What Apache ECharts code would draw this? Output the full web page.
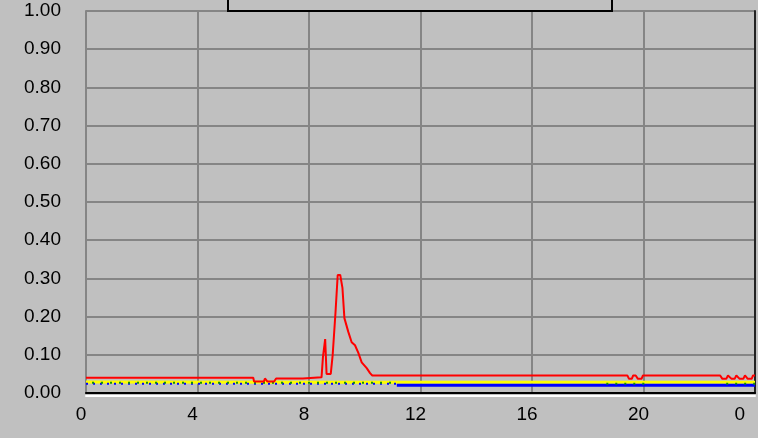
<!DOCTYPE html>
<html>
<head>
<meta charset="utf-8">
<script src="https://cdn.jsdelivr.net/npm/echarts@6/dist/echarts.min.js"></script>
<style>
html,body{margin:0;padding:0;background:#c0c0c0;}
#chart{width:758px;height:438px;}
</style>
</head>
<body>
<div id="chart"></div>
<script>
// x ticks in hours (24 wraps to 0)
const xTicks = [0, 4, 8, 12, 16, 20, 24];
const xTickLabels = ['0', '4', '8', '12', '16', '20', '0'];
const yTickLabels = ['0.00','0.10','0.20','0.30','0.40','0.50','0.60','0.70','0.80','0.90','1.00'];

// red series
const redHours = [0, 6.0, 6.03, 6.38, 6.42, 6.47, 6.51, 6.75, 6.82, 7.78, 7.82, 8.45, 8.5, 8.58, 8.63, 8.78, 8.85, 8.95, 9.03, 9.12, 9.2, 9.27, 9.41, 9.53, 9.65, 9.77, 9.89, 10.07, 10.19, 10.27,
  19.42, 19.48, 19.58, 19.63, 19.72, 19.8, 19.93, 19.98,
  22.75, 22.83, 22.97, 23.03, 23.1, 23.16, 23.27, 23.33, 23.39, 23.45, 23.58, 23.64, 23.68, 23.74, 23.88, 23.93, 24];
const redValues = [0.040, 0.040, 0.030, 0.030, 0.038, 0.038, 0.030, 0.030, 0.038, 0.038, 0.041, 0.041, 0.094, 0.141, 0.050, 0.050, 0.100, 0.210, 0.309, 0.309, 0.275, 0.196, 0.160, 0.133, 0.125, 0.105, 0.080, 0.065, 0.052, 0.046,
  0.046, 0.037, 0.037, 0.046, 0.046, 0.037, 0.037, 0.046,
  0.046, 0.037, 0.037, 0.046, 0.046, 0.037, 0.037, 0.046, 0.046, 0.037, 0.037, 0.046, 0.046, 0.037, 0.037, 0.046, 0.046];

// yellow series
const yellowHours = [0, 11.15, 24];
const yellowValues = [0.029, 0.028, 0.028];

// blue series (early part dotted, later solid)
const blueEarlyHours = [0, 11.15];
const blueEarlyValues = [0.024, 0.024];
const blueLateHours = [11.15, 24];
const blueLateValues = [0.020, 0.020];

// green (sparse, dotted)
const greenHours = [0, 11.15, 11.2, 18.4, 18.45, 20.1, 20.15, 22.7, 22.75, 24];
const greenValues = [0.027, 0.027, null, null, 0.024, 0.024, null, null, 0.024, 0.024];

const zip = (xs, ys) => xs.map((x, i) => [x, ys[i]]);

const font = 'Liberation Sans, Arial, sans-serif';
const chart = echarts.init(document.getElementById('chart'));
chart.setOption({
  backgroundColor: '#c0c0c0',
  animation: false,
  grid: { left: 86, right: 3, top: 11, bottom: 45 },
  xAxis: [{
    type: 'value', min: xTicks[0], max: xTicks[xTicks.length - 1], interval: 4,
    position: 'bottom',
    axisLine: { show: true, onZero: false, lineStyle: { color: '#000', width: 2 } },
    axisTick: { show: false },
    splitLine: { show: true, lineStyle: { color: '#858585', width: 2 } },
    axisLabel: {
      color: '#000', fontFamily: font, fontSize: 19, margin: 12,
      padding: [0, 10, 0, 0],
      alignMaxLabel: 'right',
      formatter: v => xTickLabels[xTicks.indexOf(v)]
    }
  }, {
    type: 'value', min: 0, max: 24, position: 'bottom', offset: 3,
    axisLine: { show: true, onZero: false, lineStyle: { color: '#ffffff', width: 2 } },
    axisTick: { show: false }, axisLabel: { show: false }, splitLine: { show: false }
  }],
  yAxis: [{
    type: 'value', min: 0, max: 1, interval: 0.1, position: 'left',
    axisLine: { show: true, onZero: false, lineStyle: { color: '#858585', width: 2 } },
    axisTick: { show: false },
    splitLine: { show: true, lineStyle: { color: '#858585', width: 2 } },
    axisLabel: {
      color: '#000', fontFamily: font, fontSize: 19, margin: 25,
      formatter: v => yTickLabels[Math.round(v * 10)]
    }
  }, {
    type: 'value', min: 0, max: 1, position: 'right',
    axisLine: { show: true, onZero: false, lineStyle: { color: '#222', width: 2 } },
    axisTick: { show: false }, axisLabel: { show: false }, splitLine: { show: false }
  }],
  series: [
    { type: 'line', data: zip(yellowHours, yellowValues), symbol: 'none', z: 3,
      lineStyle: { color: '#ffff00', width: 3 } },
    { type: 'line', data: zip(blueEarlyHours, blueEarlyValues), symbol: 'none', z: 4,
      lineStyle: { color: '#0000ff', width: 2, type: [2, 5] } },
    { type: 'line', data: zip(blueLateHours, blueLateValues), symbol: 'none', z: 4,
      lineStyle: { color: '#0000ff', width: 3 } },
    { type: 'line', data: zip(greenHours, greenValues), symbol: 'none', z: 5, connectNulls: false,
      lineStyle: { color: '#109010', width: 2, type: [2, 7], dashOffset: 3 } },
    { type: 'line', data: zip(redHours, redValues), symbol: 'none', z: 6,
      lineStyle: { color: '#ff0000', width: 2 } }
  ],
  graphic: [{
    type: 'rect', z: 100,
    shape: { x: 228, y: -10, width: 384, height: 21 },
    style: { fill: 'transparent', stroke: '#000', lineWidth: 2 }
  }]
});
</script>
</body>
</html>
